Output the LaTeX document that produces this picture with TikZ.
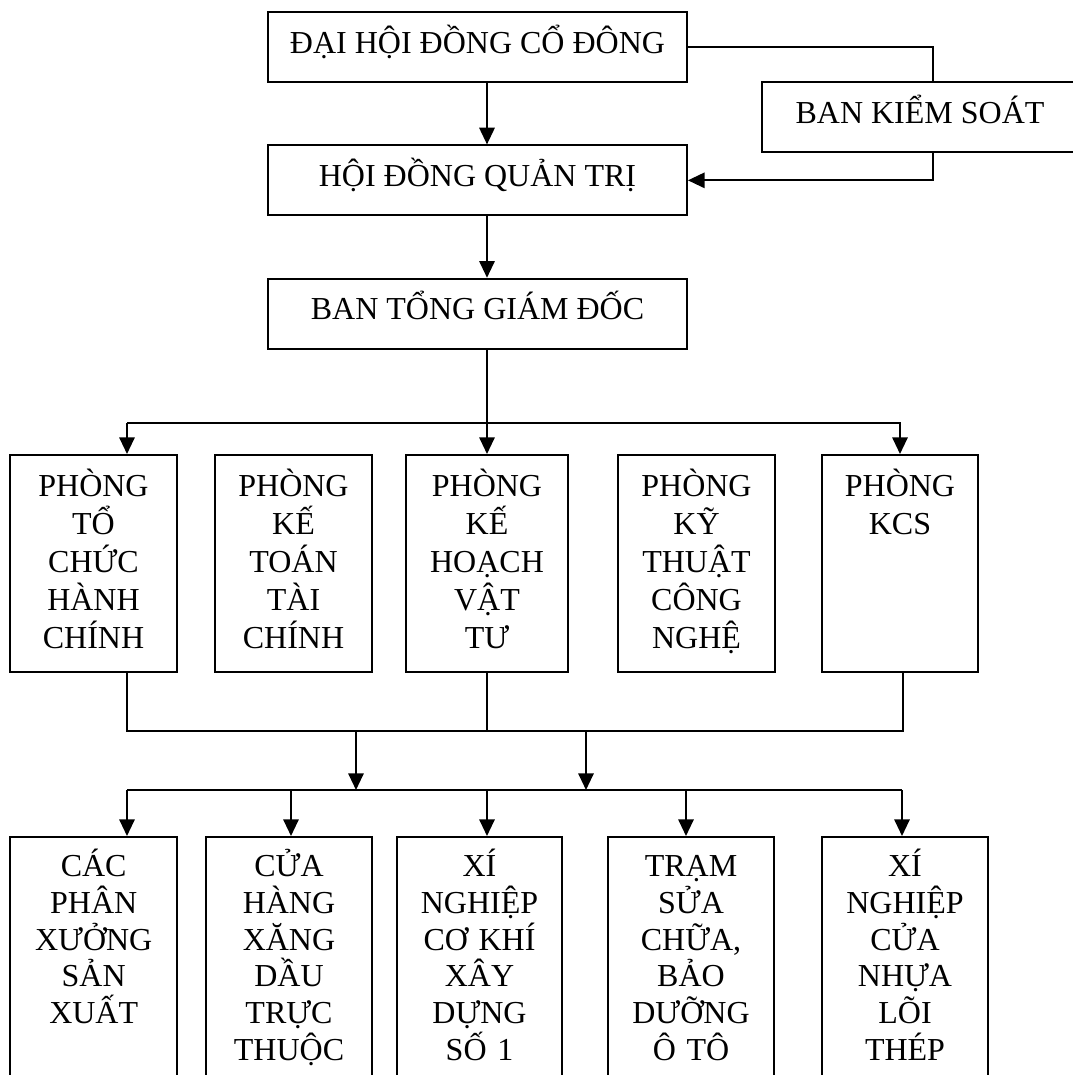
\documentclass[tikz,border=0pt]{standalone}
\usepackage{fontspec}
\setmainfont{Liberation Serif}
\usetikzlibrary{arrows.meta, positioning, calc}

\tikzstyle{board} = [rectangle, minimum width=314.25pt, minimum height=52.5pt, inner sep=0pt, text height=16pt, text depth=7pt, text centered, draw=black, line width=1.4pt, font=\fontsize{24}{28}\selectfont]
\tikzstyle{dept} = [rectangle, anchor=north, inner sep=0pt, align=center, text height=31.5pt, text depth=131.25pt, draw=black, line width=1.4pt, font=\fontsize{24}{28.5}\selectfont]
\tikzstyle{unit} = [dept, text height=30pt, text depth=180pt, font=\fontsize{24}{27.5}\selectfont]
\tikzstyle{link} = [line width=1.5pt]
\tikzstyle{arrow} = [link, -{Triangle[length=12.5pt, width=11.5pt]}]

\begin{document}
\begin{tikzpicture}[x=0.75pt, y=-0.75pt, node distance=100pt]
\useasboundingbox (0,0) rectangle (1073,1075);
\clip (0,0) rectangle (1073,1075);

% management
\node (dhcd) [board] at (477.5,47) {ĐẠI HỘI ĐỒNG CỔ ĐÔNG};
\node (hdqt) [board, below of=dhcd] {HỘI ĐỒNG QUẢN TRỊ};
\node (tgd) [board, below of=hdqt] {BAN TỔNG GIÁM ĐỐC};
\node (bks) [board, minimum width=237pt] at (920,117) {BAN KIỂM SOÁT};

% departments
\node (p1) [dept, text width=125.25pt] at (93.5,454) {PHÒNG\\TỔ\\CHỨC\\HÀNH\\CHÍNH};
\node (p2) [dept, text width=117.75pt] at (293.5,454) {PHÒNG\\KẾ\\TOÁN\\TÀI\\CHÍNH};
\node (p3) [dept, text width=121.5pt] at (487,454) {PHÒNG\\KẾ\\HOẠCH\\VẬT\\TƯ};
\node (p4) [dept, text width=117.75pt] at (696.5,454) {PHÒNG\\KỸ\\THUẬT\\CÔNG\\NGHỆ};
\node (p5) [dept, text width=117pt] at (900,454) {PHÒNG\\KCS};

% units
\node (b1) [unit, text width=125pt] at (93.7,836) {CÁC\\PHÂN\\XƯỞNG\\SẢN\\XUẤT};
\node (b2) [unit, text width=124.5pt] at (289,836) {CỬA\\HÀNG\\XĂNG\\DẦU\\TRỰC\\THUỘC};
\node (b3) [unit, text width=123.75pt] at (479.5,836) {XÍ\\NGHIỆP\\CƠ KHÍ\\XÂY\\DỰNG\\SỐ 1};
\node (b4) [unit, text width=124.5pt] at (691,836) {TRẠM\\SỬA\\CHỮA,\\BẢO\\DƯỠNG\\Ô TÔ};
\node (b5) [unit, text width=124.5pt] at (905,836) {XÍ\\NGHIỆP\\CỬA\\NHỰA\\LÕI\\THÉP};

% top links
\draw [arrow] (dhcd.south -| p3.north) -- (hdqt.north -| p3.north);
\draw [arrow] (hdqt.south -| p3.north) -- (tgd.north -| p3.north);
\coordinate (ksx) at (933,0);
\draw [link] (dhcd.east) -| (ksx |- bks.north);
\draw [arrow] (ksx |- bks.south) |- (hdqt.east);

% to departments
\draw [arrow] (tgd.south -| p3.north) -- (p3.north);
\coordinate (busA) at (127,423);
\draw [arrow] (busA) -| (p5.north);
\draw [arrow] (busA) -- (busA |- p1.north);

% to units
\coordinate (busB) at (127,731);
\coordinate (busBr) at (903,731);
\draw [link] (busB |- p1.south) -- (busB) -- (busBr) -- (busBr |- p5.south);
\draw [link] (p3.south) -- (p3.south |- busB);
\coordinate (mergeL) at (356,790);
\coordinate (mergeR) at (586,790);
\foreach \m in {mergeL, mergeR}
  \draw [arrow] (\m |- busB) -- (\m);
\coordinate (busC) at (127,790);
\coordinate (busCr) at (902,790);
\draw [link] (busC) -- (busCr);
\foreach \b/\x in {b1/127, b2/291, b3/487, b4/686, b5/902} {
  \coordinate (drop-\b) at (\x,790);
  \draw [arrow] (drop-\b) -- (drop-\b |- \b.north);
}

\end{tikzpicture}
\end{document}
